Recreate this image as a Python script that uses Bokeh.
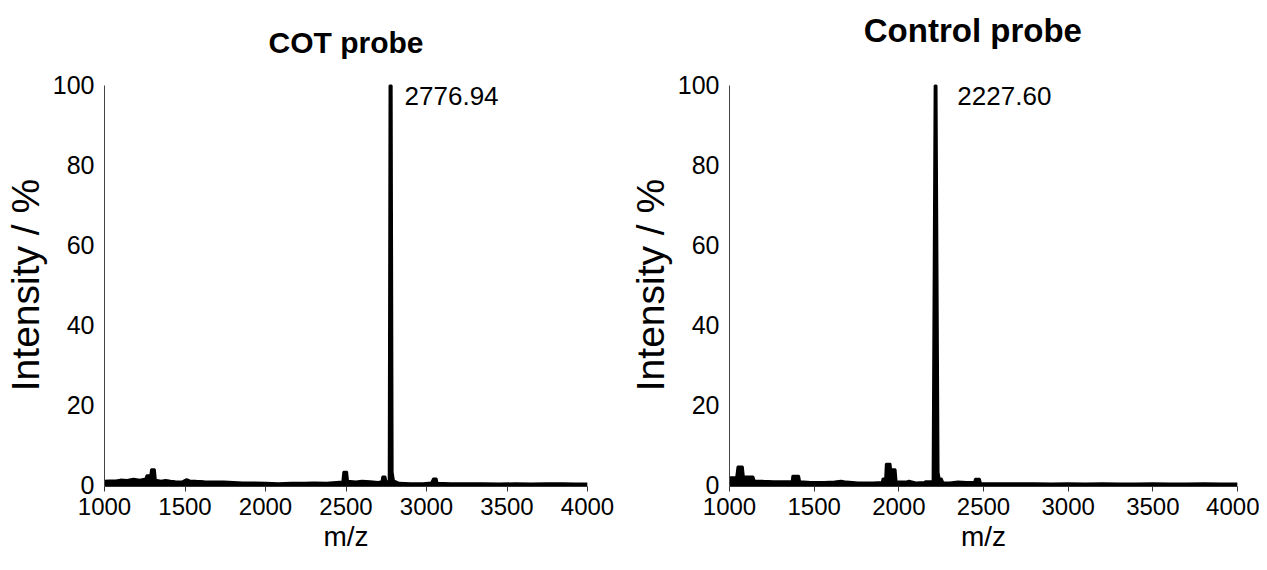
from bokeh.plotting import figure
from bokeh.layouts import row, column
from bokeh.models import Range1d, FixedTicker, Label
from bokeh.embed import file_html
from bokeh.resources import INLINE

# ---- data ----
cot_mz = [1000, 1030, 1070, 1100, 1140, 1180, 1220, 1255, 1262, 1285, 1290, 1312, 1318,
          1350, 1380, 1410, 1440, 1480, 1510, 1530, 1570, 1620, 1680, 1740, 1800, 1860,
          1920, 2000, 2080, 2160, 2240, 2300, 2380, 2440, 2478, 2484, 2506, 2512, 2560,
          2600, 2650, 2700, 2722, 2726, 2744, 2750, 2766, 2771, 2783, 2789, 2797, 2830,
          2900, 2980, 3030, 3042, 3062, 3068, 3150, 3250, 3350, 3450, 3550, 3650, 3750,
          3850, 3920, 4000]
cot_int = [0.9, 1.0, 1.0, 1.2, 1.1, 1.4, 1.2, 1.5, 2.3, 2.3, 3.8, 3.8, 1.2,
           0.9, 1.1, 0.9, 0.8, 0.7, 1.3, 1.0, 0.9, 0.8, 0.7, 0.7, 0.6, 0.5,
           0.5, 0.4, 0.3, 0.4, 0.4, 0.5, 0.4, 0.6, 0.7, 3.2, 3.2, 0.9, 0.7,
           0.9, 0.8, 0.6, 0.8, 2.0, 2.0, 0.8, 0.8, 100, 100, 3.0, 1.0, 0.4,
           0.3, 0.3, 0.5, 1.5, 1.5, 0.4, 0.3, 0.3, 0.3, 0.2, 0.3, 0.2, 0.3,
           0.3, 0.2, 0.2]

ctl_mz = [1000, 1040, 1048, 1078, 1084, 1140, 1148, 1200, 1260, 1330, 1368, 1372, 1410,
          1416, 1480, 1560, 1620, 1660, 1690, 1760, 1850, 1900, 1905, 1920, 1924, 1950,
          1954, 1980, 1986, 2040, 2060, 2100, 2150, 2160, 2200, 2212, 2222, 2234, 2240,
          2252, 2262, 2300, 2350, 2400, 2446, 2450, 2478, 2484, 2600, 2700, 2800, 2900,
          3000, 3100, 3200, 3300, 3400, 3500, 3600, 3700, 3800, 3900, 4000]
ctl_int = [1.8, 1.8, 4.5, 4.5, 2.0, 2.0, 1.0, 0.9, 0.8, 0.8, 0.8, 2.2, 2.2,
           0.8, 0.6, 0.6, 0.7, 0.9, 0.7, 0.5, 0.5, 0.6, 1.5, 1.5, 5.2, 5.2,
           3.8, 3.8, 0.7, 0.7, 0.9, 0.5, 0.6, 0.8, 0.8, 100, 100, 3.0, 1.5,
           1.5, 0.5, 0.5, 0.7, 0.6, 0.6, 1.4, 1.4, 0.3, 0.3, 0.3, 0.3, 0.2,
           0.3, 0.2, 0.3, 0.2, 0.2, 0.3, 0.2, 0.2, 0.3, 0.2, 0.2]

titles = ["COT probe", "Control probe"]
peak_mz = [2776.94, 2227.60]
peak_labels = ["2776.94", "2227.60"]
x_ticks = [1000, 1500, 2000, 2500, 3000, 3500, 4000]
y_ticks = [0, 20, 40, 60, 80, 100]
x_label = "m/z"
y_label = "Intensity / %"

FONT = "Liberation Sans"
Y0 = -0.5
YTOP = 100.5
TITLE_H = 60
TOTAL_H = 554


def make_panel(mz, inten, title, title_x, title_y, title_size, pk, pk_label, width,
               mb_left, mb_right, pk_offset):
    # title strip
    t = figure(width=width, height=TITLE_H, output_backend="svg", toolbar_location=None,
               x_range=Range1d(1000, 4000), y_range=Range1d(0, TITLE_H),
               x_axis_location=None, y_axis_location=None,
               min_border_left=mb_left, min_border_right=mb_right,
               min_border_top=0, min_border_bottom=0)
    t.outline_line_color = None
    t.grid.visible = False
    t.add_layout(Label(x=title_x, y=title_y, text=title, text_align="center",
                       text_baseline="alphabetic", text_font=FONT,
                       text_font_size=title_size, text_font_style="bold",
                       text_color="black"))

    p = figure(width=width, height=TOTAL_H - TITLE_H, output_backend="svg",
               toolbar_location=None,
               x_range=Range1d(1000, 4000), y_range=Range1d(Y0, YTOP),
               min_border_left=mb_left, min_border_right=mb_right,
               min_border_top=23, min_border_bottom=64)
    p.outline_line_color = None
    p.grid.visible = False
    p.background_fill_color = "white"
    p.border_fill_color = "white"

    p.varea(x=mz, y1=[Y0] * len(mz), y2=inten, color="black")
    p.line(x=mz, y=inten, line_color="black", line_width=2.2)

    p.add_layout(Label(x=pk, y=100, text=pk_label, x_offset=pk_offset, y_offset=-2,
                       text_baseline="top", text_font=FONT, text_font_size="26px",
                       text_color="black"))

    xa = p.xaxis[0]
    xa.ticker = FixedTicker(ticks=x_ticks)
    xa.axis_label = x_label
    xa.axis_label_text_font = FONT
    xa.axis_label_text_font_size = "28px"
    xa.axis_label_text_font_style = "normal"
    xa.axis_label_text_color = "black"
    xa.axis_label_standoff = 3
    xa.major_label_text_font = FONT
    xa.major_label_text_font_size = "24px"
    xa.major_label_text_color = "black"
    xa.major_label_standoff = 6
    xa.major_tick_in = 0
    xa.major_tick_out = 5
    xa.minor_tick_out = 0
    xa.minor_tick_in = 0
    xa.axis_line_color = "#333333"
    xa.major_tick_line_color = "#333333"

    ya = p.yaxis[0]
    ya.ticker = FixedTicker(ticks=y_ticks)
    ya.bounds = (Y0, 100)
    ya.axis_label = y_label
    ya.axis_label_text_font = FONT
    ya.axis_label_text_font_size = "39px"
    ya.axis_label_text_font_style = "normal"
    ya.axis_label_text_color = "black"
    ya.axis_label_standoff = 3
    ya.major_label_text_font = FONT
    ya.major_label_text_font_size = "25px"
    ya.major_label_text_color = "black"
    ya.major_label_standoff = 10
    ya.major_tick_in = 0
    ya.major_tick_out = 0
    ya.minor_tick_out = 0
    ya.minor_tick_in = 0
    ya.axis_line_color = "#444444"
    return column(t, p, spacing=0)


c1 = make_panel(cot_mz, cot_int, titles[0], 2500, 18, "30px", peak_mz[0], peak_labels[0],
                625, 95, 38, 14)
c2 = make_panel(ctl_mz, ctl_int, titles[1], 2437, 30, "33px", peak_mz[1], peak_labels[1],
                634, 103, 22, 20)

layout = row(c1, c2, spacing=0)
open("out.html", "w").write(file_html(layout, INLINE))
